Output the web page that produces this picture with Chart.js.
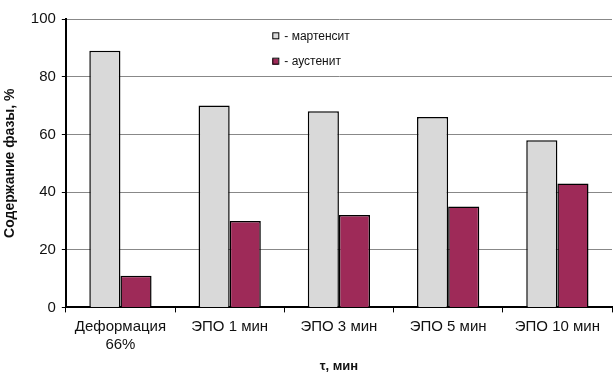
<!DOCTYPE html>
<html>
<head>
<meta charset="utf-8">
<script src="https://cdn.jsdelivr.net/npm/chart.js@4"></script>
<style>
  html, body { margin: 0; padding: 0; background: #fff; }
  #wrap { width: 615px; height: 374px; }
</style>
</head>
<body>
<div id="wrap"><canvas id="chart"></canvas></div>
<script>
const categories = [["Деформация", "66%"], "ЭПО 1 мин", "ЭПО 3 мин", "ЭПО 5 мин", "ЭПО 10 мин"];
const martensite = [89, 70, 68, 66, 58];
const austenite = [11, 30, 32, 35, 43];
const seriesNames = ["- мартенсит", "- аустенит"];
const yTitle = "Содержание фазы, %";
const xTitle = "τ, мин";

const fontFamily = "'Liberation Sans', Arial, sans-serif";

// legend sits inside the plot, like in the original
const innerLegend = {
  id: "innerLegend",
  afterDraw(chart) {
    const ctx = chart.ctx;
    const x = chart.scales.x.getPixelForValue(1.5) - 12;
    const rows = [
      { y: chart.scales.y.getPixelForValue(94), fill: "#d9d9d9", text: seriesNames[0] },
      { y: chart.scales.y.getPixelForValue(85.2), fill: "#9e2a58", text: seriesNames[1] }
    ];
    ctx.save();
    ctx.font = "12px " + fontFamily;
    ctx.textBaseline = "middle";
    rows.forEach(r => {
      ctx.fillStyle = r.fill;
      ctx.fillRect(x, r.y - 3, 6, 6);
      ctx.strokeStyle = "#000";
      ctx.lineWidth = 1;
      ctx.strokeRect(x + 0.5, r.y - 3.5, 6, 6);
      ctx.fillStyle = "#111";
      ctx.fillText(r.text, x + 12, r.y);
    });
    ctx.restore();
  }
};

new Chart(document.getElementById("chart"), {
  type: "bar",
  data: {
    labels: categories,
    datasets: [{
      label: seriesNames[0],
      data: martensite,
      backgroundColor: "#d9d9d9",
      borderColor: "#000",
      borderWidth: 1.5
    }, {
      label: seriesNames[1],
      data: austenite,
      backgroundColor: "#9e2a58",
      borderColor: "#000",
      borderWidth: 1.5
    }]
  },
  options: {
    responsive: true,
    maintainAspectRatio: false,
    animation: false,
    layout: { padding: { top: 19, right: 3, left: 2, bottom: 0 } },
    datasets: { bar: { categoryPercentage: 0.57, barPercentage: 1 } },
    plugins: {
      legend: { display: false },
      tooltip: { enabled: false }
    },
    scales: {
      x: {
        grid: { offset: true, drawOnChartArea: false, color: "#000", tickLength: 5 },
        border: { color: "#000", width: 2 },
        ticks: { color: "#111", font: { family: fontFamily, size: 15 }, maxRotation: 0, padding: 5 },
        title: { display: true, text: xTitle, color: "#111", font: { family: fontFamily, size: 13, weight: "bold" }, padding: { top: 0, bottom: 0 } }
      },
      y: {
        min: 0,
        max: 100,
        ticks: { stepSize: 20, color: "#111", font: { family: fontFamily, size: 15 }, padding: 6 },
        grid: { color: "#888", tickLength: 4, tickColor: "#000" },
        border: { color: "#000", width: 2 },
        title: { display: true, text: yTitle, color: "#111", font: { family: fontFamily, size: 14, weight: "bold" }, padding: { top: 0, bottom: 6 } }
      }
    }
  },
  plugins: [innerLegend]
});
</script>
</body>
</html>
